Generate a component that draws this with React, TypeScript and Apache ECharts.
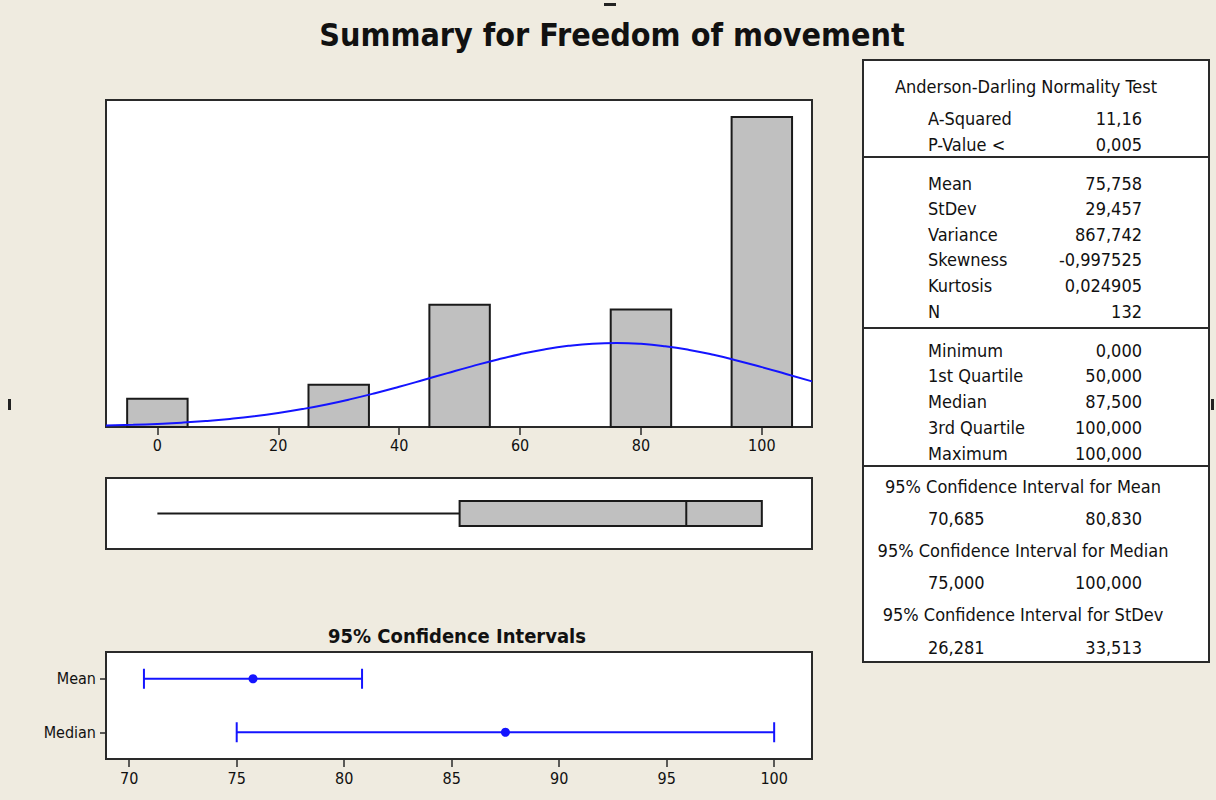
import React, { useEffect, useRef } from "react";
import * as echarts from "echarts";

// ---------- data ----------
const histCenters = [0, 30, 50, 80, 100];
const histCounts = [6, 9, 26, 25, 66];
const binWidth = 10;
const histTicks = [0, 20, 40, 60, 80, 100];
// fitted normal curve (counts per bin)
const curveX = [-8.5, -4, 0, 4, 8, 12, 16, 20, 24, 28, 32, 36, 40, 44, 48, 52, 56, 60, 64, 68, 72, 76, 80, 84, 88, 92, 96, 100, 104, 108.3];
const curveY = [0.3, 0.46, 0.66, 0.92, 1.27, 1.72, 2.28, 2.98, 3.82, 4.8, 5.93, 7.19, 8.56, 10.0, 11.47, 12.91, 14.28, 15.5, 16.51, 17.27, 17.74, 17.88, 17.7, 17.19, 16.4, 15.36, 14.12, 12.74, 11.29, 9.71];
const boxStats = [0, 50, 87.5, 100, 100]; // min, Q1, median, Q3, max
const ciCategories = ["Mean", "Median"];
const ciLow = [70.685, 75];
const ciHigh = [80.83, 100];
const ciPoint = [75.758, 87.5];
const ciTicks = [70, 75, 80, 85, 90, 95, 100];

const chartTitle = "Summary for Freedom of movement";
const ciTitle = "95% Confidence Intervals";
const adTitle = "Anderson-Darling Normality Test";
const adLabels = ["A-Squared", "P-Value <"];
const adValues = ["11,16", "0,005"];
const descLabels = ["Mean", "StDev", "Variance", "Skewness", "Kurtosis", "N"];
const descValues = ["75,758", "29,457", "867,742", "-0,997525", "0,024905", "132"];
const quantLabels = ["Minimum", "1st Quartile", "Median", "3rd Quartile", "Maximum"];
const quantValues = ["0,000", "50,000", "87,500", "100,000", "100,000"];
const ciHeads = [
  "95% Confidence Interval for Mean",
  "95% Confidence Interval for Median",
  "95% Confidence Interval for StDev",
];
const ciPairLow = ["70,685", "75,000", "26,281"];
const ciPairHigh = ["80,830", "100,000", "33,513"];

// ---------- styles ----------
const FONT = "'DejaVu Sans Condensed', 'DejaVu Sans', sans-serif";
const BG = "#efebe0";
const BORDER = "#2a2a2a";
const BLUE = "#1414ff";
const TXT = "#111111";

export default function App() {
  const ref = useRef<HTMLDivElement>(null);

  useEffect(() => {
    if (!ref.current) return;
    const chart = echarts.init(ref.current, undefined, { renderer: "svg" });

    const graphics: any[] = [];
    const txt = (text: string, x: number, y: number, align: string, size = 18, weight = "normal") =>
      graphics.push({
        type: "text",
        z: 10,
        style: {
          text,
          x,
          y,
          align,
          verticalAlign: "middle",
          fontFamily: FONT,
          fontSize: size,
          fontWeight: weight,
          fill: TXT,
        },
      });

    // window artifacts
    graphics.push({ type: "rect", shape: { x: 604, y: 3, width: 12, height: 3 }, style: { fill: "#222" } });
    graphics.push({ type: "rect", shape: { x: 8, y: 399, width: 3, height: 11 }, style: { fill: "#222" } });
    graphics.push({ type: "rect", shape: { x: 1211, y: 399, width: 3, height: 11 }, style: { fill: "#222" } });

    txt(chartTitle, 612, 35, "center", 32, "bold");
    txt(ciTitle, 457, 636, "center", 20, "bold");

    // statistics table
    graphics.push({
      type: "rect",
      z: 5,
      shape: { x: 863, y: 60, width: 346, height: 602 },
      style: { fill: "#ffffff", stroke: BORDER, lineWidth: 2 },
    });
    [157, 328, 466].forEach((y) =>
      graphics.push({
        type: "line",
        z: 6,
        shape: { x1: 863, y1: y, x2: 1209, y2: y },
        style: { stroke: BORDER, lineWidth: 2 },
      })
    );
    const LX = 928;
    const RX = 1142;
    txt(adTitle, 1026, 86, "center");
    adLabels.forEach((l, i) => {
      txt(l, LX, 118 + i * 26, "left");
      txt(adValues[i], RX, 118 + i * 26, "right");
    });
    descLabels.forEach((l, i) => {
      txt(l, LX, 183 + i * 25.6, "left");
      txt(descValues[i], RX, 183 + i * 25.6, "right");
    });
    quantLabels.forEach((l, i) => {
      txt(l, LX, 350 + i * 25.75, "left");
      txt(quantValues[i], RX, 350 + i * 25.75, "right");
    });
    ciHeads.forEach((h, i) => {
      txt(h, 1023, 486 + i * 64, "center");
      txt(ciPairLow[i], LX, 518 + i * 64.5, "left");
      txt(ciPairHigh[i], RX, 518 + i * 64.5, "right");
    });

    const gridCommon = {
      show: true,
      backgroundColor: "#ffffff",
      borderColor: BORDER,
      borderWidth: 2,
      left: 106,
      width: 706,
    };

    const option: any = {
      animation: false,
      backgroundColor: BG,
      textStyle: { fontFamily: FONT },
      grid: [
        { ...gridCommon, top: 100, height: 327 },
        { ...gridCommon, top: 478, height: 71 },
        { ...gridCommon, top: 652, height: 107 },
      ],
      xAxis: [
        {
          type: "value",
          gridIndex: 0,
          min: -8.5,
          max: 108.3,
          splitLine: { show: false },
          axisLine: { show: true, lineStyle: { color: BORDER, width: 2 } },
          axisTick: { show: true, length: 8, customValues: histTicks, lineStyle: { color: BORDER, width: 1.5 } },
          axisLabel: { customValues: histTicks, fontSize: 16, color: TXT, margin: 10, fontFamily: FONT },
        },
        { type: "value", gridIndex: 1, min: -8.5, max: 108.3, show: false },
        {
          type: "value",
          gridIndex: 2,
          min: 68.92,
          max: 101.76,
          splitLine: { show: false },
          axisLine: { show: true, lineStyle: { color: BORDER, width: 2 } },
          axisTick: { show: true, length: 8, customValues: ciTicks, lineStyle: { color: BORDER, width: 1.5 } },
          axisLabel: { customValues: ciTicks, fontSize: 16, color: TXT, margin: 11, fontFamily: FONT },
        },
      ],
      yAxis: [
        { type: "value", gridIndex: 0, min: 0, max: 69.6, show: false },
        { type: "value", gridIndex: 1, min: 0, max: 1, show: false },
        {
          type: "category",
          gridIndex: 2,
          data: ciCategories,
          inverse: true,
          axisLine: { show: true, lineStyle: { color: BORDER, width: 2 } },
          axisTick: { show: true, length: 6, alignWithLabel: true, lineStyle: { color: BORDER, width: 1.5 } },
          axisLabel: { fontSize: 16, color: TXT, margin: 10, fontFamily: FONT },
          splitLine: { show: false },
        },
      ],
      series: [
        {
          type: "custom",
          xAxisIndex: 0,
          yAxisIndex: 0,
          z: 2,
          data: histCenters.map((c, i) => [c, histCounts[i]]),
          renderItem: (params: any, api: any) => {
            const c = api.value(0);
            const n = api.value(1);
            const p0 = api.coord([c - binWidth / 2, 0]);
            const p1 = api.coord([c + binWidth / 2, n]);
            return {
              type: "rect",
              shape: { x: p0[0], y: p1[1], width: p1[0] - p0[0], height: p0[1] - p1[1] },
              style: { fill: "#c0c0c0", stroke: "#1a1a1a", lineWidth: 2 },
            };
          },
        },
        {
          type: "line",
          xAxisIndex: 0,
          yAxisIndex: 0,
          z: 3,
          data: curveX.map((x, i) => [x, curveY[i]]),
          smooth: true,
          showSymbol: false,
          symbol: "none",
          clip: true,
          lineStyle: { color: BLUE, width: 2 },
        },
        {
          type: "custom",
          xAxisIndex: 1,
          yAxisIndex: 1,
          z: 2,
          data: [boxStats],
          renderItem: (params: any, api: any) => {
            const mn = api.coord([api.value(0), 0.5]);
            const q1 = api.coord([api.value(1), 0.5]);
            const md = api.coord([api.value(2), 0.5]);
            const q3 = api.coord([api.value(3), 0.5]);
            const mx = api.coord([api.value(4), 0.5]);
            const yc = mn[1];
            const h = 25;
            const st = { stroke: "#1a1a1a", lineWidth: 2 };
            return {
              type: "group",
              children: [
                { type: "line", shape: { x1: mn[0], y1: yc, x2: q1[0], y2: yc }, style: st },
                { type: "line", shape: { x1: q3[0], y1: yc, x2: mx[0], y2: yc }, style: st },
                {
                  type: "rect",
                  shape: { x: q1[0], y: yc - h / 2, width: q3[0] - q1[0], height: h },
                  style: { fill: "#c0c0c0", stroke: "#1a1a1a", lineWidth: 2 },
                },
                { type: "line", shape: { x1: md[0], y1: yc - h / 2, x2: md[0], y2: yc + h / 2 }, style: st },
              ],
            };
          },
        },
        {
          type: "custom",
          xAxisIndex: 2,
          yAxisIndex: 2,
          z: 3,
          data: ciCategories.map((c, i) => [ciLow[i], ciHigh[i], ciPoint[i], i]),
          renderItem: (params: any, api: any) => {
            const idx = api.value(3);
            const lo = api.coord([api.value(0), idx]);
            const hi = api.coord([api.value(1), idx]);
            const pt = api.coord([api.value(2), idx]);
            const y = lo[1];
            const cap = 10;
            const st = { stroke: BLUE, lineWidth: 2 };
            return {
              type: "group",
              children: [
                { type: "line", shape: { x1: lo[0], y1: y, x2: hi[0], y2: y }, style: st },
                { type: "line", shape: { x1: lo[0], y1: y - cap, x2: lo[0], y2: y + cap }, style: st },
                { type: "line", shape: { x1: hi[0], y1: y - cap, x2: hi[0], y2: y + cap }, style: st },
                { type: "circle", shape: { cx: pt[0], cy: y, r: 4.5 }, style: { fill: BLUE } },
              ],
            };
          },
        },
      ],
      graphic: graphics,
    };

    chart.setOption(option);
    return () => chart.dispose();
  }, []);

  return (
    <div
      ref={ref}
      style={{ position: "absolute", left: 0, top: 0, width: 1216, height: 800 }}
    />
  );
}
